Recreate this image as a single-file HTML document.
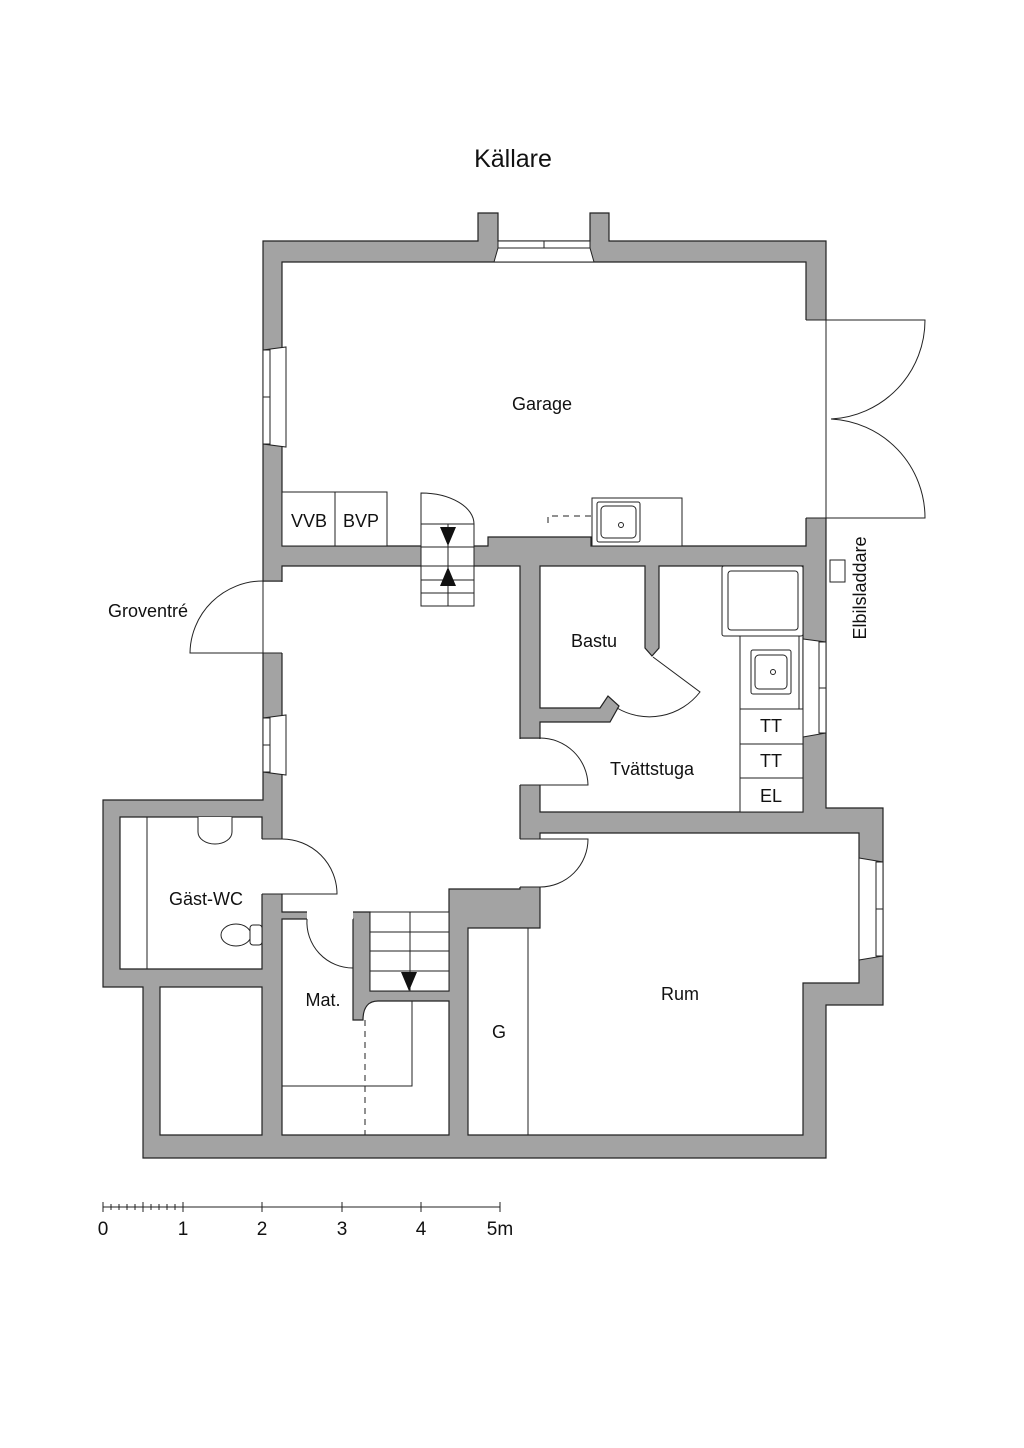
<!DOCTYPE html>
<html><head><meta charset="utf-8"><style>
html,body{margin:0;padding:0;background:#fff;}
svg{display:block;}
text{font-family:"Liberation Sans",sans-serif;fill:#111;}
</style></head><body>
<svg width="1024" height="1448" viewBox="0 0 1024 1448" xmlns="http://www.w3.org/2000/svg">
<rect width="1024" height="1448" fill="#fff"/>
<text x="513" y="167" font-size="25" text-anchor="middle">Källare</text>

<g stroke="#222" stroke-width="1.2" stroke-linejoin="miter">
<path fill="#a3a3a3" d="M263,241 L478,241 L478,213 L498,213 L498,241 L590,241 L590,213 L609,213 L609,241 L826,241 L826,808 L883,808 L883,1005 L826,1005 L826,1158 L143,1158 L143,987 L103,987 L103,800 L263,800 Z"/>
<g fill="#fff">
<path d="M282,262 L806,262 L806,546 L591,546 L591,537 L488,537 L488,546 L282,546 Z"/>
<path d="M282,566 L520,566 L520,889 L449,889 L449,991 L370,991 L370,912 L282,912 Z"/>
<path d="M540,566 L645,566 L645,648 L652,656 L659,648 L659,566 L803,566 L803,812 L540,812 L540,722 L610,722 L619,706 L608,696 L600,708 L540,708 Z"/>
<path d="M540,833 L859,833 L859,983 L803,983 L803,1135 L468,1135 L468,928 L540,928 Z"/>
<path d="M120,817 L262,817 L262,969 L120,969 Z"/>
<path d="M160,987 L262,987 L262,1135 L160,1135 Z"/>
<path d="M282,919 L353,919 L353,1020 L363,1020 C363,1008 368,1001 378,1001 L449,1001 L449,1135 L282,1135 Z"/>
</g>
</g>

<g fill="#fff" stroke="none">
<rect x="805" y="320" width="23" height="198"/>
<rect x="261" y="582" width="23" height="71"/>
<rect x="519" y="739" width="23" height="46"/>
<rect x="519" y="839" width="23" height="48"/>
<rect x="261" y="839" width="23" height="55"/>
<rect x="307" y="911" width="46" height="9"/>
</g>

<g fill="none" stroke="#222" stroke-width="1">
<line x1="826" y1="320" x2="826" y2="518"/>
<path d="M826,320 L925,320 A99,99 0 0 1 831,419"/>
<path d="M826,518 L925,518 A99,99 0 0 0 831,419"/>
<path d="M806,320 L826,320 M806,518 L826,518"/>
<line x1="263" y1="581" x2="263" y2="653"/>
<path d="M263,653 L190,653 A73,73 0 0 1 263,581"/>
<path d="M263,581 L282,581 M263,653 L282,653"/>
<path d="M653,657 L700,692 A64,64 0 0 1 617,708"/>
<path d="M540,738 A48,48 0 0 1 588,785 L540,785"/>
<path d="M520,738 L540,738 M520,785 L540,785"/>
<path d="M540,839 L588,839 A48,48 0 0 1 540,887"/>
<path d="M520,839 L540,839 M520,887 L540,887"/>
<path d="M282,839 A55,55 0 0 1 337,894 L282,894"/>
<path d="M262,839 L282,839 M262,894 L282,894"/>
<path d="M307,919 A46,46 0 0 0 353,968 L353,919"/>
<line x1="147" y1="817" x2="147" y2="969"/>
<line x1="528" y1="928" x2="528" y2="1135"/>
<path d="M282,1086 L412,1086 L412,1001"/>
<line x1="365" y1="1020" x2="365" y2="1135" stroke-dasharray="6,5"/>
<path d="M548,523 L548,516 L592,516" stroke-dasharray="6,5"/>
</g>

<g fill="#fff" stroke="#222" stroke-width="1">
<rect x="370" y="912" width="79" height="79"/>
<line x1="410" y1="912" x2="410" y2="991"/>
<line x1="370" y1="932" x2="449" y2="932"/>
<line x1="370" y1="951" x2="449" y2="951"/>
<line x1="370" y1="971" x2="449" y2="971"/>
</g>
<path d="M401,972 L417,972 L409,991 Z" fill="#111"/>

<g fill="#fff" stroke="#222" stroke-width="1">
<path d="M421,493 A53,31 0 0 1 474,524 L474,606 L421,606 Z"/>
<line x1="421" y1="524" x2="474" y2="524"/>
<line x1="421" y1="547" x2="474" y2="547"/>
<line x1="421" y1="566" x2="474" y2="566"/>
<line x1="421" y1="580" x2="474" y2="580"/>
<line x1="421" y1="593" x2="474" y2="593"/>
<line x1="448" y1="524" x2="448" y2="606"/>
</g>
<path d="M440,527 L456,527 L448,546 Z" fill="#111"/>
<path d="M440,586 L456,586 L448,567 Z" fill="#111"/>

<g fill="#fff" stroke="#222" stroke-width="1">
<rect x="282" y="492" width="105" height="54"/>
<line x1="335" y1="492" x2="335" y2="546"/>
<rect x="592" y="498" width="90" height="48"/>
<rect x="597" y="502" width="43" height="40" rx="2"/>
<rect x="601" y="506" width="35" height="32" rx="4"/>
<circle cx="621" cy="525" r="2.5"/>
<rect x="722" y="566" width="81" height="70" rx="2"/>
<rect x="728" y="571" width="70" height="59" rx="3"/>
<rect x="740" y="636" width="59" height="73"/>
<rect x="751" y="650" width="40" height="44" rx="2"/>
<rect x="755" y="655" width="32" height="34" rx="4"/>
<circle cx="773" cy="672" r="2.5"/>
<rect x="740" y="709" width="63" height="35"/>
<rect x="740" y="744" width="63" height="34"/>
<rect x="740" y="778" width="63" height="34"/>
<path d="M198,817 L198,832 A17,12 0 0 0 232,832 L232,817"/>
<ellipse cx="236" cy="935" rx="15" ry="11"/>
<rect x="250" y="925" width="12" height="20" rx="3"/>
<rect x="830" y="560" width="15" height="22"/>
</g>

<g fill="#fff" stroke="#222" stroke-width="1">
<path d="M494,262 L498,248 L590,248 L594,262 Z"/>
<rect x="498" y="241" width="92" height="7"/>
<line x1="544" y1="241" x2="544" y2="248"/>
<path d="M263,350 L286,347 L286,447 L263,444 Z"/>
<rect x="263" y="350" width="7" height="94"/>
<line x1="263" y1="397" x2="270" y2="397"/>
<path d="M263,718 L286,715 L286,775 L263,772 Z"/>
<rect x="263" y="718" width="7" height="54"/>
<line x1="263" y1="745" x2="270" y2="745"/>
<path d="M826,642 L803,639 L803,737 L826,733 Z"/>
<rect x="819" y="642" width="7" height="91"/>
<line x1="819" y1="688" x2="826" y2="688"/>
<path d="M883,862 L859,858 L859,960 L883,956 Z"/>
<rect x="876" y="862" width="7" height="94"/>
<line x1="876" y1="909" x2="883" y2="909"/>
</g>

<g font-size="18">
<text x="542" y="410" text-anchor="middle">Garage</text>
<text x="594" y="647" text-anchor="middle">Bastu</text>
<text x="652" y="775" text-anchor="middle">Tvättstuga</text>
<text x="206" y="905" text-anchor="middle">Gäst-WC</text>
<text x="323" y="1006" text-anchor="middle">Mat.</text>
<text x="499" y="1038" text-anchor="middle">G</text>
<text x="680" y="1000" text-anchor="middle">Rum</text>
<text x="148" y="617" text-anchor="middle">Groventré</text>
<text x="309" y="527" text-anchor="middle">VVB</text>
<text x="361" y="527" text-anchor="middle">BVP</text>
<text x="771" y="732" text-anchor="middle">TT</text>
<text x="771" y="767" text-anchor="middle">TT</text>
<text x="771" y="802" text-anchor="middle">EL</text>
<text transform="translate(866,588) rotate(-90)" text-anchor="middle">Elbilsladdare</text>
</g>

<g stroke="#222" stroke-width="1">
<line x1="103" y1="1207" x2="500" y2="1207"/>
<path d="M103,1202V1212 M183,1202V1212 M262,1202V1212 M342,1202V1212 M421,1202V1212 M500,1202V1212"/>
<path d="M111,1204V1210 M119,1204V1210 M127,1204V1210 M135,1204V1210 M143,1202V1212 M151,1204V1210 M159,1204V1210 M167,1204V1210 M175,1204V1210"/>
</g>
<g font-size="19">
<text x="103" y="1235" text-anchor="middle">0</text>
<text x="183" y="1235" text-anchor="middle">1</text>
<text x="262" y="1235" text-anchor="middle">2</text>
<text x="342" y="1235" text-anchor="middle">3</text>
<text x="421" y="1235" text-anchor="middle">4</text>
<text x="500" y="1235" text-anchor="middle">5m</text>
</g>
</svg>
</body></html>
